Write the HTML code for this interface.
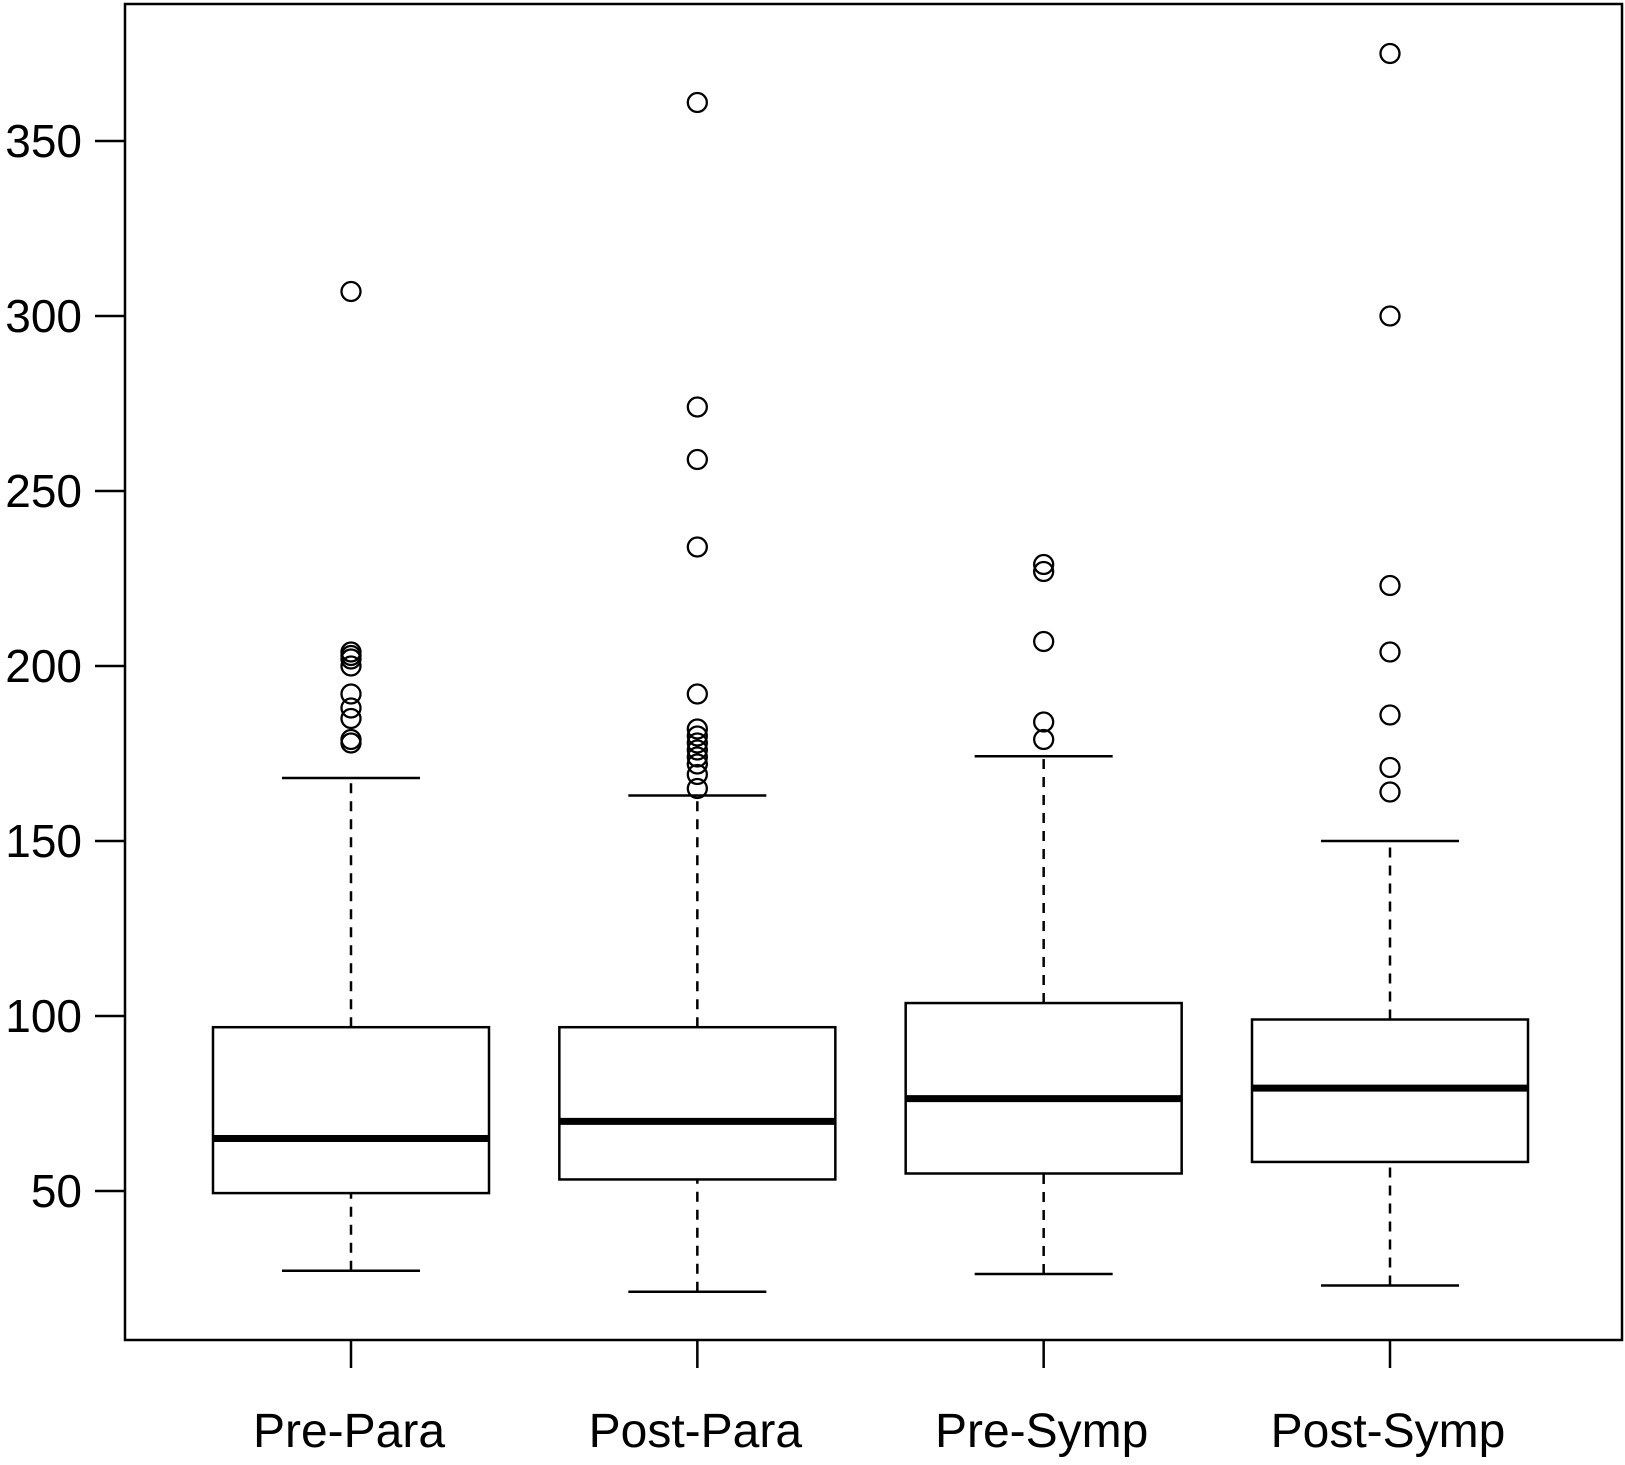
<!DOCTYPE html>
<html><head><meta charset="utf-8"><style>
html,body{margin:0;padding:0;background:#fff;}
svg{display:block;font-family:"Liberation Sans",Arial,sans-serif;}
</style></head><body>
<svg id="chart" width="1625" height="1465" viewBox="0 0 1625 1465"></svg>
<script>
const categories = ["Pre-Para","Post-Para","Pre-Symp","Post-Symp"];
const lowerWhisker = [27.2, 21.2, 26.3, 23];
const q1Values = [49.4, 53.3, 55, 58.3];
const medians = [65, 69.9, 76.4, 79.4];
const q3Values = [96.8, 96.8, 103.7, 99];
const upperWhisker = [168, 163, 174.2, 150];
const outliers = [
  [307, 204, 203, 202, 200, 192, 188, 185, 179, 178],
  [361, 274, 259, 234, 192, 182, 180, 178, 176, 174, 172, 169, 165],
  [229, 227, 207, 184, 179],
  [375, 300, 223, 204, 186, 171, 164]
];
const yTicks = [50, 100, 150, 200, 250, 300, 350];

const NS = "http://www.w3.org/2000/svg";
const svg = document.getElementById("chart");
const plotL = 125, plotR = 1622, plotT = 4, plotB = 1340;
function yScale(v){ return 1191 + (v - 50) * (141 - 1191) / 300; }
function xScale(i){ return 351 + i * (1390 - 351) / 3; }
function mk(tag, attrs){ const e = document.createElementNS(NS, tag); for (const k in attrs) e.setAttribute(k, attrs[k]); svg.appendChild(e); return e; }

let frame = mk("rect", {x: plotL, y: plotT, width: plotR - plotL, height: plotB - plotT, fill: "none", stroke: "#000", "stroke-width": 2.5});



yTicks.forEach(t => {
  const y = yScale(t);
  let tk = mk("line", {x1: plotL - 30, y1: y, x2: plotL, y2: y, stroke: "#000", "stroke-width": 2.5});
  
  
  let lb = mk("text", {x: 82, y: y + 16, "text-anchor": "end", "font-size": 46});
  lb.textContent = t;
  
  
});

const hw = 138, cw = 69;
categories.forEach((c, i) => {
  const x = xScale(i);
  let tk = mk("line", {x1: x, y1: plotB, x2: x, y2: plotB + 28, stroke: "#000", "stroke-width": 2.5});
  
  
  let lb = mk("text", {x: x - 2, y: 1447, "text-anchor": "middle", "font-size": 48});
  lb.textContent = c;
  
  

  let w1 = mk("line", {x1: x, y1: yScale(lowerWhisker[i]), x2: x, y2: yScale(q1Values[i]), stroke: "#000", "stroke-width": 2.5, "stroke-dasharray": "10,8"});
  
  
  let w2 = mk("line", {x1: x, y1: yScale(q3Values[i]), x2: x, y2: yScale(upperWhisker[i]), stroke: "#000", "stroke-width": 2.5, "stroke-dasharray": "10,8"});
  
  
  let c1 = mk("line", {x1: x - cw, y1: yScale(lowerWhisker[i]), x2: x + cw, y2: yScale(lowerWhisker[i]), stroke: "#000", "stroke-width": 2.5});
  
  
  let c2 = mk("line", {x1: x - cw, y1: yScale(upperWhisker[i]), x2: x + cw, y2: yScale(upperWhisker[i]), stroke: "#000", "stroke-width": 2.5});
  
  
  let bx = mk("rect", {x: x - hw, y: yScale(q3Values[i]), width: 2 * hw, height: yScale(q1Values[i]) - yScale(q3Values[i]), fill: "#fff", stroke: "#000", "stroke-width": 2.5});
  
  
  let md = mk("line", {x1: x - hw, y1: yScale(medians[i]), x2: x + hw, y2: yScale(medians[i]), stroke: "#000", "stroke-width": 7});
  
  
  outliers[i].forEach(v => {
    let o = mk("circle", {cx: x, cy: yScale(v), r: 9.5, fill: "none", stroke: "#000", "stroke-width": 2.3});
    
    
  });
});
</script>
</body></html>
